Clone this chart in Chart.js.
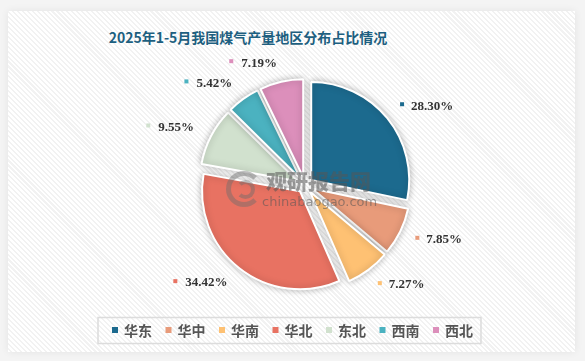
<!DOCTYPE html>
<html>
<head>
<meta charset="utf-8">
<script src="https://cdn.jsdelivr.net/npm/chart.js@4.4.1/dist/chart.umd.min.js"></script>
<style>
  html, body { margin:0; padding:0; }
  body { width:585px; height:361px; background:#f4f4f4; position:relative; overflow:hidden; }
  #panel { position:absolute; left:8px; top:11px; width:567px; height:341px;
    background: repeating-linear-gradient(45deg, #ffffff 0px, #ffffff 2px, #f2f2f2 2px, #f2f2f2 3.5px);
    box-shadow: 0 0 8px rgba(0,0,0,0.07); }
  #title { position:absolute; left:48px; width:400px; top:28px; text-align:center;
    font-family:"Noto Sans CJK SC", sans-serif; font-weight:700; font-size:14px; color:#1d5f80; line-height:18px; }
  canvas { position:absolute; left:0; top:0; }
  #wm { position:absolute; left:225px; top:166px; width:160px; height:45px; pointer-events:none; }
  #wm .logo { position:absolute; left:1px; top:5px; width:26px; height:26px; border-radius:50%;
    border:5px solid rgba(110,110,110,0.45); border-right-color:transparent; }
  #wm .logo2 { position:absolute; left:11px; top:14px; width:11px; height:11px; border-radius:50%;
    border:4px solid rgba(110,110,110,0.45); border-left-color:transparent; }
  #wm .cn { position:absolute; left:41px; top:2px; font-family:"Noto Sans CJK SC", sans-serif; font-weight:900;
    font-size:21px; line-height:24px; color:rgba(85,85,85,0.55); }
  #wm .en { position:absolute; left:37px; top:28px; font-family:"DejaVu Sans", sans-serif;
    font-size:13px; line-height:16px; color:rgba(85,85,85,0.55); }
</style>
</head>
<body>
<div id="panel"></div>
<div id="title">2025年1-5月我国煤气产量地区分布占比情况</div>
<canvas id="c" width="585" height="361"></canvas>
<div id="wm"><div class="logo"></div><div class="logo2"></div><div class="cn">观研报告网</div><div class="en">chinabaogao.com</div></div>
<script>
const categories = ["华东", "华中", "华南", "华北", "东北", "西南", "西北"];
const shares = [28.30, 7.85, 7.27, 34.42, 9.55, 5.42, 7.19];
const colors = ["#1c6a8e", "#e89b7a", "#fec173", "#e87262", "#d1e1ce", "#4bb2c0", "#dc8fbb"];

const EXPLODE = 8;

// pull every slice outward along its mid-angle (pure translation, same radius)
const explodePlugin = {
  id: 'explode',
  beforeDatasetDraw(chart) {
    const ctx = chart.ctx;
    chart.getDatasetMeta(0).data.forEach(arc => {
      if (arc._wrapped) return;
      const orig = arc.draw.bind(arc);
      arc.draw = function (c) {
        const h = (this.startAngle + this.endAngle) / 2;
        c.save();
        c.translate(Math.cos(h) * EXPLODE, Math.sin(h) * EXPLODE);
        orig(c);
        c.restore();
      };
      arc._wrapped = true;
    });
    ctx.save();
    ctx.shadowColor = 'rgba(0,0,0,0.28)';
    ctx.shadowBlur = 7;
  },
  afterDatasetDraw(chart) {
    chart.ctx.restore();
  }
};

const labelPlugin = {
  id: 'outLabels',
  afterDatasetsDraw(chart) {
    const ctx = chart.ctx;
    const meta = chart.getDatasetMeta(0);
    ctx.save();
    ctx.font = 'bold 13px "Liberation Serif", serif';
    ctx.textBaseline = 'middle';
    meta.data.forEach((arc, i) => {
      const a = (arc.startAngle + arc.endAngle) / 2;
      const k = arc.outerRadius + 27;
      const ax = arc.x + Math.cos(a) * k;
      const ay = arc.y + Math.sin(a) * k - 1;
      const txt = shares[i].toFixed(2) + '%';
      const w = ctx.measureText(txt).width;
      let mx, tx;
      if (Math.cos(a) >= -0.05) { mx = ax; tx = ax + 9; }
      else { tx = ax - w; mx = tx - 10; }
      ctx.fillStyle = colors[i];
      ctx.fillRect(mx - 2, ay - 3, 4, 4);
      ctx.fillStyle = '#333';
      ctx.textAlign = 'left';
      ctx.fillText(txt, tx, ay + 1);
    });
    ctx.restore();
  }
};

const legendPlugin = {
  id: 'boxLegend',
  afterDraw(chart) {
    const ctx = chart.ctx;
    ctx.save();
    ctx.font = 'bold 14px "Noto Sans CJK SC", sans-serif';
    ctx.textBaseline = 'middle';
    const box = 6, gapText = 6, gapItem = 13.5;
    const widths = chart.data.labels.map(t => box + gapText + ctx.measureText(t).width);
    const total = widths.reduce((s, w) => s + w, 0) + gapItem * (widths.length - 1);
    let x = 292.5 - total / 2;
    const cy = 330;
    ctx.strokeStyle = '#dcdcdc';
    ctx.lineWidth = 1.5;
    ctx.strokeRect(x - 14, 317.5, total + 22, 26);
    chart.data.labels.forEach((t, i) => {
      ctx.fillStyle = chart.data.datasets[0].backgroundColor[i];
      ctx.fillRect(x, cy - 3, box, box);
      ctx.fillStyle = '#555';
      ctx.textAlign = 'left';
      ctx.fillText(t, x + box + gapText, cy + 1);
      x += widths[i] + gapItem;
    });
    ctx.restore();
  }
};

new Chart(document.getElementById('c'), {
  type: 'pie',
  data: {
    labels: categories,
    datasets: [{
      data: shares,
      backgroundColor: colors,
      borderColor: '#ffffff',
      borderWidth: 2,
      hoverOffset: 0
    }]
  },
  options: {
    responsive: false,
    animation: false,
    radius: 98,
    layout: { padding: { left: 180, right: 155, top: 60, bottom: 51 } },
    plugins: { legend: { display: false }, tooltip: { enabled: false }, title: { display: false } }
  },
  plugins: [explodePlugin, labelPlugin, legendPlugin]
});
</script>
</body>
</html>
